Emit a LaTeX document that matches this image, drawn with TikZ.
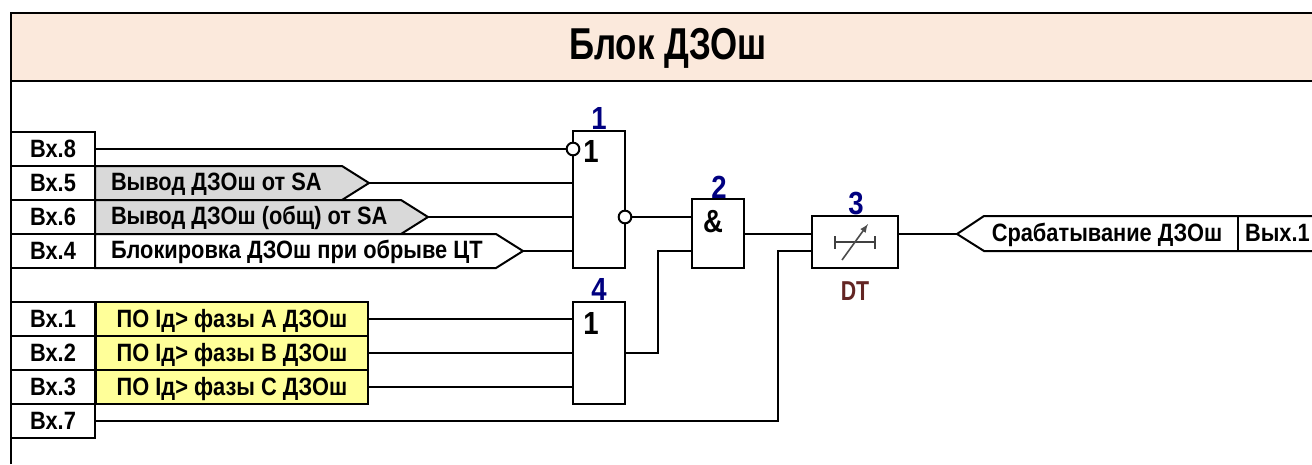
\documentclass[tikz,border=0pt]{standalone}
\usepackage{fontspec}
\setmainfont[FakeStretch=0.86]{Liberation Sans}
\newfontfamily\tagfont[FakeStretch=0.87]{Liberation Sans}
\newfontfamily\headfont[FakeStretch=0.78]{Liberation Sans}
\usepackage{tikz}
\usetikzlibrary{calc,positioning}

\definecolor{titlefill}{HTML}{FBE9DC}
\definecolor{labelgray}{HTML}{D9D9D9}
\definecolor{labelyellow}{HTML}{FFFF99}
\definecolor{numblue}{HTML}{000080}
\definecolor{dtbrown}{HTML}{632523}

\tikzset{
    wire/.style={line width=1.5pt, line join=miter},
    inbox/.style={draw, line width=1.5pt, fill=white, inner sep=0pt, outer sep=0pt, minimum width=63pt, minimum height=25.5pt, text height=12.5pt, text depth=0pt, font=\tagfont\bfseries\fontsize{18.8}{20}\selectfont},
    tag/.style={inner sep=0pt, outer sep=0pt, font=\tagfont\bfseries\fontsize{18.8}{20}\selectfont},
    yellowbox/.style={draw, line width=1.5pt, fill=labelyellow, inner sep=0pt, outer sep=0pt, minimum width=204pt, minimum height=25.5pt, text height=12.5pt, text depth=0pt, font=\tagfont\bfseries\fontsize{18.8}{20}\selectfont},
    block/.style={draw, line width=1.5pt, fill=white, inner sep=0pt, outer sep=0pt, anchor=north west},
    invert/.style={circle, draw, line width=1.5pt, fill=white, inner sep=0pt, outer sep=0pt, minimum size=9.5pt},
    blockmark/.style={inner sep=0pt, font=\bfseries\fontsize{24}{26}\selectfont},
    blocknum/.style={inner sep=0pt, text=numblue, font=\bfseries\fontsize{24}{26}\selectfont}
}

\begin{document}
\begin{tikzpicture}[x=0.75pt, y=-0.75pt]
    \clip (0,0) rectangle (1312,464);

    % the frame and the title
    \fill[titlefill] (11,13) rectangle (1312,81);
    \draw[line width=1.5pt] (11,464) -- (11,13);
    \draw[line width=2.2pt] (10,13) -- (1312,13);
    \draw[line width=1.5pt] (11,81) -- (1312,81);
    \node[inner sep=0pt, anchor=mid, font=\headfont\bfseries\fontsize{33.5}{36}\selectfont] (title) at (668,56) {Блок ДЗОш};

    % the inputs, upper group
    \node[inbox] (x8) at (53,149) {Вх.8};
    \node[inbox] (x5) at (53,183) {Вх.5};
    \node[inbox] (x6) at (53,217) {Вх.6};
    \node[inbox] (x4) at (53,251) {Вх.4};

    % the inputs, lower group
    \node[inbox] (x1) at (53,319) {Вх.1};
    \node[inbox] (x2) at (53,353) {Вх.2};
    \node[inbox] (x3) at (53,387) {Вх.3};
    \node[inbox] (x7) at (53,421) {Вх.7};

    % the pointed labels
    \coordinate (sa1) at (369,183);
    \coordinate (sa2) at (428,217);
    \coordinate (ct) at (523,251);
    \filldraw[wire, fill=labelgray] (95,166) -- (342,166) -- (sa1) -- (342,200) -- (95,200) -- cycle;
    \filldraw[wire, fill=labelgray] (95,200) -- (401,200) -- (sa2) -- (401,234) -- (95,234) -- cycle;
    \filldraw[wire, fill=white] (95,234) -- (496,234) -- (ct) -- (496,268) -- (95,268) -- cycle;
    \node[tag, anchor=mid west] (sa1text) at (111,187) {Вывод ДЗОш от SA};
    \node[tag, anchor=mid west] (sa2text) at (111,221) {Вывод ДЗОш (общ) от SA};
    \node[tag, anchor=mid west] (cttext) at (111,255) {Блокировка ДЗОш при обрыве ЦТ};

    % the yellow labels
    \node[yellowbox] (pa) at (232,319) {ПО Iд> фазы А ДЗОш};
    \node[yellowbox] (pb) at (232,353) {ПО Iд> фазы В ДЗОш};
    \node[yellowbox] (pc) at (232,387) {ПО Iд> фазы С ДЗОш};

    % the blocks
    \node[block, minimum width=39pt, minimum height=102.75pt] (b1) at (573,131) {};
    \node[block, minimum width=39pt, minimum height=51.75pt] (b2) at (692,199) {};
    \node[block, minimum width=64.5pt, minimum height=39pt] (b3) at (812,216) {};
    \node[block, minimum width=39pt, minimum height=76.5pt] (b4) at (573,302) {};

    \node[blockmark] (m1) at (591,151) {1};
    \node[blockmark] (m2) at (713,222) {\&};
    \node[blockmark] (m4) at (591,323) {1};

    \node[blocknum] (n1) at (599,118) {1};
    \node[blocknum] (n2) at (719,187) {2};
    \node[blocknum] (n3) at (856,204) {3};
    \node[blocknum] (n4) at (599,289) {4};
    \node[inner sep=0pt, text=dtbrown, font=\headfont\bfseries\fontsize{20.5}{22}\selectfont] (dt) at (855,291) {DT};

    % the sign inside the timer
    \draw[line width=1.1pt, color=black!75] (835,242) -- (875,242);
    \draw[line width=1.1pt, color=black!75] (835,236) -- (835,249);
    \draw[line width=1.1pt, color=black!75] (875,236) -- (875,249);
    \draw[line width=1.2pt, color=black!70, -latex] (842,260) -- (868,224);

    % the inverted pins
    \node[invert] (i1) at (573,149) {};
    \node[invert] (i2) at (625,217) {};

    % the output label
    \coordinate (outtip) at (957,234);
    \filldraw[wire, fill=white] (outtip) -- (984,216) -- (1316,216) -- (1316,251) -- (984,251) -- cycle;
    \draw[wire] (1238,216) -- (1238,251);
    \node[tag, anchor=mid] (outtext) at (1107,238) {Срабатывание ДЗОш};
    \node[tag, anchor=mid west] (y1) at (1245,238) {Вых.1};

    % draw the wires
    \draw[wire] (x8.east) -- (i1.west);
    \draw[wire] (sa1) -- (sa1 -| b1.west);
    \draw[wire] (sa2) -- (sa2 -| b1.west);
    \draw[wire] (ct) -- (ct -| b1.west);
    \draw[wire] (pa.east) -- (pa.east -| b4.west);
    \draw[wire] (pb.east) -- (pb.east -| b4.west);
    \draw[wire] (pc.east) -- (pc.east -| b4.west);

    \coordinate (j4) at (658,251);
    \coordinate (j7) at (778,251);
    \draw[wire] (i2.east) -- (i2.east -| b2.west);
    \draw[wire] (b4.east) -- (b4.east -| j4) -- (j4) -- (j4 -| b2.west);
    \draw[wire] (x7.east) -- (x7.east -| j7) -- (j7) -- (j7 -| b3.west);
    \draw[wire] (b2.east) -- (b2.east -| b3.west);
    \draw[wire] (outtip -| b3.east) -- (outtip);

\end{tikzpicture}
\end{document}
